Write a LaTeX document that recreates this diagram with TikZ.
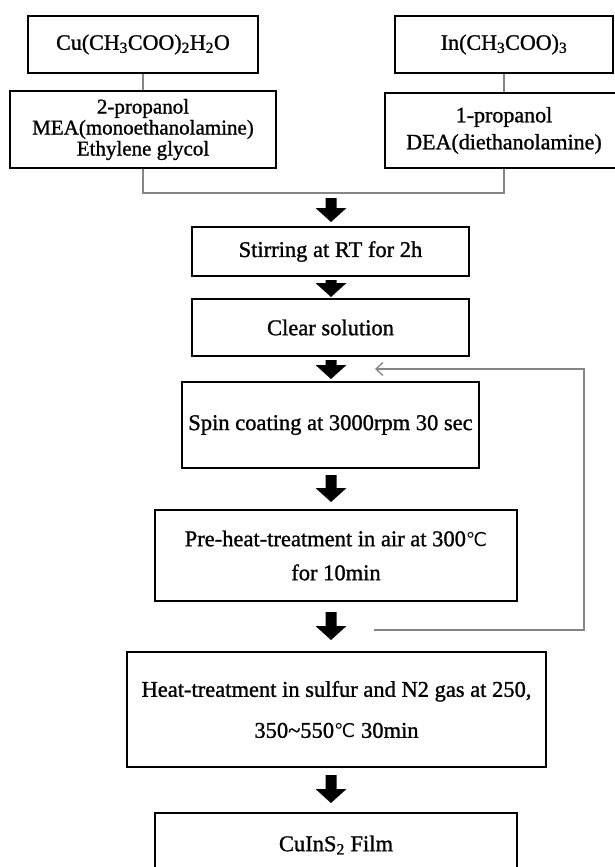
\documentclass[tikz,border=0pt]{standalone}
\usepackage{fontspec}
\setmainfont{Liberation Serif}[BoldFont=Liberation Serif, BoldFeatures={FakeBold=1.1}]
\newfontfamily\degfont{DejaVu Sans}[BoldFont=DejaVu Sans]
\usetikzlibrary{arrows.meta,calc}
\definecolor{linegray}{HTML}{858585}
\newcommand\degC{{\degfont\fontsize{19}{19}\selectfont ℃}}
\newcommand\blockarr[3]{\fill[black] ({#1-5.5},#2) -- ({#1+5.5},#2) -- ({#1+5.5},{#3-14}) -- ({#1+15.5},{#3-14}) -- (#1,#3) -- ({#1-15.5},{#3-14}) -- ({#1-5.5},{#3-14}) -- cycle;}
\tikzset{
  box/.style={draw=black, line width=2.2pt, fill=white, inner sep=0pt, align=center,
    font=\bfseries\fontsize{22.5}{27}\selectfont},
  conn/.style={draw=linegray, line width=1.3pt},
}
\begin{document}
\begin{tikzpicture}[x=1pt,y=-1pt]
\useasboundingbox (0,0) rectangle (615,867);
\fill[white] (0,0) rectangle (615,867);
\clip (0,0) rectangle (615,867);
% top row
\node[box, minimum width=230pt, minimum height=57pt, font=\bfseries\fontsize{22}{27}\selectfont] (cu) at (143,44.5)
  {Cu(CH\textsubscript{3}COO)\textsubscript{2}H\textsubscript{2}O};
\node[box, minimum width=266pt, minimum height=77pt, font=\bfseries\fontsize{21}{21}\selectfont] (mea) at (143,129.5)
  {2-propanol\\MEA(monoethanolamine)\\Ethylene glycol};
\node[box, minimum width=218pt, minimum height=57pt, font=\bfseries\fontsize{22}{27}\selectfont] (in) at (504,44.5)
  {In(CH\textsubscript{3}COO)\textsubscript{3}};
\node[box, minimum width=238pt, minimum height=75pt, font=\bfseries\fontsize{22}{27}\selectfont] (dea) at (504,130.5)
  {1-propanol\\DEA(diethanolamine)};
% process boxes
\node[box, minimum width=277pt, minimum height=49pt] (stir) at (330.5,251.5) {Stirring at RT for 2h};
\node[box, minimum width=277pt, minimum height=57pt] (clear) at (330.5,327.5) {Clear solution};
\node[box, minimum width=297pt, minimum height=86pt] (spin) at (330.5,425) {Spin coating at 3000rpm 30 sec};
\node[box, minimum width=362pt, minimum height=91pt, font=\bfseries\fontsize{22.5}{34}\selectfont] (pre) at (336,555.5)
  {Pre-heat-treatment in air at 300\degC\\for 10min};
\node[box, minimum width=419pt, minimum height=115pt, font=\bfseries\fontsize{22.5}{41}\selectfont] (heat) at (336.5,709.5)
  {Heat-treatment in sulfur and N2 gas at 250,\\350\textasciitilde550\degC{} 30min};
\node[box, minimum width=362pt, minimum height=64pt] (film) at (336,845)
  {CuInS\textsubscript{2} Film};
% thin connectors
\draw[conn] (cu) -- (mea);
\draw[conn] (in) -- (dea);
\coordinate (mergeL) at (143,193);
\draw[conn] (mea.south) -- (mergeL) -| (dea.south);
% block arrows
\blockarr{331}{198}{222}
\blockarr{331}{280}{297}
\blockarr{331}{360}{379}
\blockarr{331}{475}{502}
\blockarr{331}{612}{640}
\blockarr{331}{775}{803}
% feedback loop
\coordinate (fbs) at (374,630);
\coordinate (fbc1) at (584,630);
\coordinate (fbc2) at (584,369);
\coordinate (fbe) at (375,369);
\draw[conn, -{Straight Barb[length=7pt,width=13pt,line width=1.3pt]}] (fbs) -- (fbc1) -- (fbc2) -- (fbe);
\end{tikzpicture}
\end{document}
